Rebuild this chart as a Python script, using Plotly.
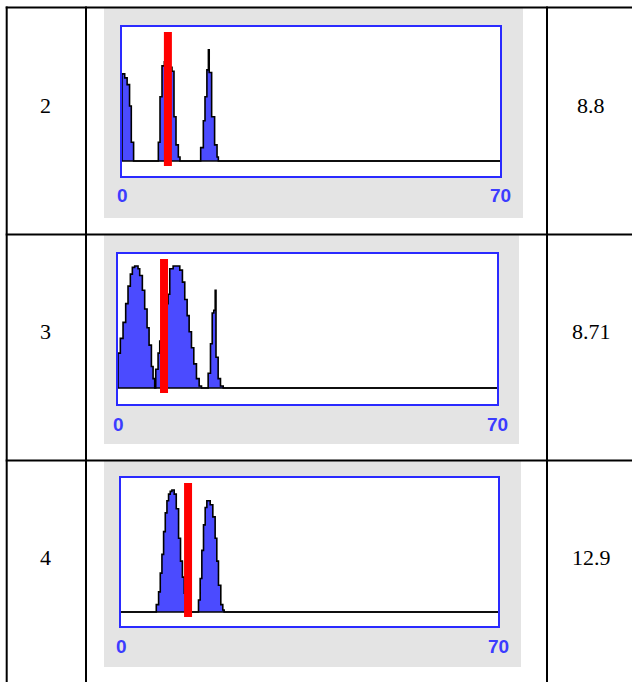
import plotly.graph_objects as go

# ---------------- data ----------------
row_labels = ["2", "3", "4"]
row_values = ["8.8", "8.71", "12.9"]
marker_x = [8.5, 8.5, 12.45]          # position of the red bar on the 0-70 axis
axis_min, axis_max = 0, 70
tick_labels = ["0", "70"]

# histogram step outlines: bin edges and bin heights (% of plot height), per peak
row2_edges = [
    [0, 0.5, 0.95, 1.4, 1.72, 2.15],
    [6.73, 7.04, 7.41, 7.84, 8.2, 8.55, 8.9, 9.26, 9.63, 10.0, 10.43, 10.74],
    [14.57, 15.06, 15.37, 15.72, 16.0, 16.15, 16.6, 17.15, 17.6, 17.84],
]
row2_heights = [
    [65, 62, 57, 41, 14],
    [14, 48, 71, 74, 75, 73, 70, 67, 33, 12, 3],
    [10, 30, 48, 68, 83, 66, 33, 12, 3],
]
row3_edges = [
    [0, 0.43, 0.93, 1.42, 1.85, 2.28, 2.65, 3.08, 3.70, 4.01, 4.50, 4.93, 5.37, 5.74, 6.17, 6.48, 6.78],
    [6.97, 7.4, 7.71, 8.1, 8.5, 8.9, 9.25, 9.56, 10.18, 11.41, 11.9, 12.33, 12.77, 13.14, 13.57, 14.0, 14.49, 14.99, 15.42],
    [16.65, 17.08, 17.4, 17.7, 17.95, 18.1, 18.5, 18.93, 19.43],
]
row3_heights = [
    [26, 37, 49, 63, 76, 85, 90, 91, 89, 84, 73, 59, 45, 32, 16, 7],
    [14, 26, 35, 45, 55, 63, 70, 89, 91, 88, 79, 66, 54, 42, 30, 18, 7, 1.5],
    [11, 33, 56, 58, 73, 23, 7, 1.5],
]
row4_edges = [
    [6.55, 6.98, 7.29, 7.6, 7.91, 8.22, 8.53, 8.83, 9.14, 9.45, 9.88, 10.26, 10.69, 11.05, 11.4, 11.74, 12.1, 12.4],
    [14.39, 14.7, 15.01, 15.32, 15.63, 15.94, 16.56, 17.05, 17.48, 17.79, 18.1, 18.53, 18.9, 19.15],
]
row4_heights = [
    [5.5, 15, 29, 43, 60, 74, 83, 88, 90, 91, 88, 77, 55, 38, 26, 14, 5],
    [9, 25, 46, 65, 78, 83, 80, 71, 55, 38, 20, 5.5, 1.5],
]
all_edges = [row2_edges, row3_edges, row4_edges]
all_heights = [row2_heights, row3_heights, row4_heights]

# ---------------- layout geometry (pixels) ----------------
W, H = 632, 682
frames = [  # x0, x1, y0(top), y1(bottom), baseline offset from bottom
    (122, 500, 27, 176, 15),
    (118, 497, 254, 404, 16),
    (121, 498, 478, 626, 14),
]
panels = [(104, 523, 8, 218), (104, 519, 235, 444), (104, 521, 461, 667)]
row_lines_y = [7.5, 234.5, 460.5]
col_lines_x = [6.7, 86, 547]
text_y = [105.5, 331.5, 557.5]

def px(x):
    return x / W

def py(y):
    return 1 - y / H

fig = go.Figure()
shapes = []
annotations = []

# table grid
for y in row_lines_y:
    shapes.append(dict(type="line", xref="paper", yref="paper", x0=px(5.7), x1=1.0,
                       y0=py(y), y1=py(y), line=dict(color="black", width=2), layer="above"))
for x in col_lines_x:
    shapes.append(dict(type="line", xref="paper", yref="paper", x0=px(x), x1=px(x),
                       y0=py(6.5), y1=0, line=dict(color="black", width=2), layer="above"))

blue = "#2a2aff"
for i in range(3):
    fx0, fx1, fy0, fy1, boff = frames[i]
    n = "" if i == 0 else str(i + 1)
    top_to_base = (fy1 - boff) - fy0
    ymin = -boff / top_to_base * 100
    fig.update_layout(**{
        "xaxis" + n: dict(domain=[px(fx0), px(fx1)], range=[axis_min, axis_max],
                          anchor="y" + n, showgrid=False, zeroline=False,
                          showticklabels=False, ticks="", showline=True, mirror=True,
                          linecolor=blue, linewidth=2, fixedrange=True),
        "yaxis" + n: dict(domain=[py(fy1), py(fy0)], range=[ymin, 100],
                          anchor="x" + n, showgrid=False, zeroline=False,
                          showticklabels=False, ticks="", showline=True, mirror=True,
                          linecolor=blue, linewidth=2, fixedrange=True),
    })
    # grey panel and white plot interior
    p = panels[i]
    shapes.append(dict(type="rect", xref="paper", yref="paper", x0=px(p[0]), x1=px(p[1]),
                       y0=py(p[3]), y1=py(p[2]), fillcolor="#e4e4e4", line_width=0, layer="below"))
    shapes.append(dict(type="rect", xref="paper", yref="paper", x0=px(fx0), x1=px(fx1),
                       y0=py(fy1), y1=py(fy0), fillcolor="white", line_width=0, layer="below"))

    # histogram step outline
    xs, ys = [axis_min], [0]
    for edges, heights in zip(all_edges[i], all_heights[i]):
        xs.append(edges[0]); ys.append(0)
        xs.extend(edges); ys.extend(list(heights) + [0])
    xs.append(axis_max); ys.append(0)
    fig.add_trace(go.Scatter(x=xs, y=ys, mode="lines", line_shape="hv",
                             line=dict(color="black", width=1.6), fill="tozeroy",
                             fillcolor="#4b4bff", hoverinfo="skip",
                             xaxis="x" + n, yaxis="y" + n, showlegend=False))
    # baseline
    fig.add_trace(go.Scatter(x=[axis_min, axis_max], y=[0, 0], mode="lines",
                             line=dict(color="black", width=1.6), hoverinfo="skip",
                             xaxis="x" + n, yaxis="y" + n, showlegend=False))
    # red marker bar
    fig.add_trace(go.Scatter(x=[marker_x[i], marker_x[i]], y=[-3.7, 96.3], mode="lines",
                             line=dict(color="#ff0000", width=8), hoverinfo="skip",
                             xaxis="x" + n, yaxis="y" + n, showlegend=False))

    # axis end labels
    for xv, t in zip([axis_min, axis_max], tick_labels):
        annotations.append(dict(x=xv, xref="x" + n, y=py(fy1 + 20), yref="paper",
                                text="<b>" + t + "</b>", showarrow=False,
                                xanchor="center", yanchor="middle",
                                font=dict(family="Liberation Sans, Arial", size=19, color="#3c3cff")))

    # table texts
    annotations.append(dict(x=px(45.5), y=py(text_y[i]), xref="paper", yref="paper",
                            text=row_labels[i], showarrow=False, xanchor="center", yanchor="middle",
                            font=dict(family="Liberation Serif, Times New Roman", size=22, color="black")))
    annotations.append(dict(x=px(591), y=py(text_y[i]), xref="paper", yref="paper",
                            text=row_values[i], showarrow=False, xanchor="center", yanchor="middle",
                            font=dict(family="Liberation Serif, Times New Roman", size=22, color="black")))

fig.update_layout(width=W, height=H, margin=dict(l=0, r=0, t=0, b=0),
                  paper_bgcolor="white", plot_bgcolor="rgba(0,0,0,0)",
                  shapes=shapes, annotations=annotations, showlegend=False)

fig.write_html("out.html", config={"displayModeBar": False},
               post_script="document.body.style.margin='0';document.body.style.padding='0';")
